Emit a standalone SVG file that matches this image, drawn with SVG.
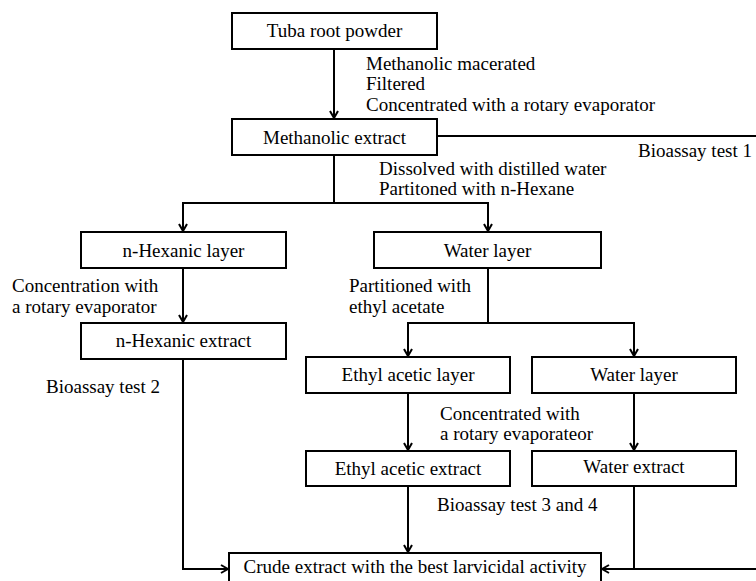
<svg xmlns="http://www.w3.org/2000/svg" width="756" height="581" viewBox="0 0 756 581">
<style>
  .box { fill: #ffffff; stroke: #000000; stroke-width: 2; }
  .lbl { font-family: "Liberation Serif", "Times New Roman", serif; font-size: 19px; fill: #000000; }
  .c { text-anchor: middle; }
  .ln { fill: none; stroke: #000000; stroke-width: 2; }
</style>
<defs>
  <marker id="arr" viewBox="0 0 10 10" refX="9" refY="5" markerWidth="10" markerHeight="10" markerUnits="userSpaceOnUse" orient="auto">
    <path d="M2,1 L9,5 L2,9" fill="none" stroke="#000000" stroke-width="2"/>
  </marker>
</defs>
<rect width="756" height="581" fill="#ffffff"/>

<g id="connectors">
  <line class="ln" x1="334" y1="49" x2="334" y2="118" marker-end="url(#arr)"/>
  <line class="ln" x1="437" y1="136" x2="757" y2="136"/>
  <polyline class="ln" points="334,155 334,203 183,203 183,231" marker-end="url(#arr)"/>
  <polyline class="ln" points="334,203 488,203 488,231" marker-end="url(#arr)"/>
  <line class="ln" x1="183" y1="268" x2="183" y2="322" marker-end="url(#arr)"/>
  <polyline class="ln" points="488,268 488,323 408,323 408,356" marker-end="url(#arr)"/>
  <polyline class="ln" points="488,323 634,323 634,356" marker-end="url(#arr)"/>
  <line class="ln" x1="408" y1="393" x2="408" y2="450" marker-end="url(#arr)"/>
  <line class="ln" x1="634" y1="393" x2="634" y2="450" marker-end="url(#arr)"/>
  <line class="ln" x1="408" y1="486" x2="408" y2="552" marker-end="url(#arr)"/>
  <polyline class="ln" points="183,359 183,569 228,569" marker-end="url(#arr)"/>
  <line class="ln" x1="634" y1="486" x2="634" y2="569"/>
  <line class="ln" x1="757" y1="569" x2="602" y2="569" marker-end="url(#arr)"/>
</g>

<g id="tuba">
  <rect class="box" x="232" y="13" width="205" height="36"/>
  <text class="lbl c" x="334.5" y="37">Tuba root powder</text>
</g>
<g id="step1-label">
  <text class="lbl" x="366" y="70">Methanolic macerated</text>
  <text class="lbl" x="366" y="90">Filtered</text>
  <text class="lbl" x="366" y="111">Concentrated with a rotary evaporator</text>
</g>
<g id="methanolic">
  <rect class="box" x="232" y="119" width="205" height="36"/>
  <text class="lbl c" x="334.5" y="144">Methanolic extract</text>
</g>
<g id="bioassay1">
  <text class="lbl" x="638" y="157">Bioassay test 1</text>
</g>
<g id="step2-label">
  <text class="lbl" x="379" y="175">Dissolved with distilled water</text>
  <text class="lbl" x="379" y="195">Partitoned with n-Hexane</text>
</g>
<g id="hexanic-layer">
  <rect class="box" x="81" y="232" width="205" height="36"/>
  <text class="lbl c" x="183.5" y="257">n-Hexanic layer</text>
</g>
<g id="water-layer">
  <rect class="box" x="374" y="232" width="227" height="36"/>
  <text class="lbl c" x="487.5" y="257">Water layer</text>
</g>
<g id="step3-label">
  <text class="lbl" x="12" y="292">Concentration with</text>
  <text class="lbl" x="12" y="313">a rotary evaporator</text>
</g>
<g id="step4-label">
  <text class="lbl" x="349" y="292">Partitioned with</text>
  <text class="lbl" x="349" y="313">ethyl acetate</text>
</g>
<g id="hexanic-extract">
  <rect class="box" x="81" y="323" width="205" height="36"/>
  <text class="lbl c" x="183.5" y="347">n-Hexanic extract</text>
</g>
<g id="bioassay2">
  <text class="lbl" x="46" y="393">Bioassay test 2</text>
</g>
<g id="ethyl-layer">
  <rect class="box" x="306" y="357" width="204" height="36"/>
  <text class="lbl c" x="408" y="381">Ethyl acetic layer</text>
</g>
<g id="water-layer-2">
  <rect class="box" x="532" y="357" width="204" height="36"/>
  <text class="lbl c" x="634" y="381">Water layer</text>
</g>
<g id="step5-label">
  <text class="lbl" x="440" y="420">Concentrated with</text>
  <text class="lbl" x="440" y="440">a rotary evaporateor</text>
</g>
<g id="ethyl-extract">
  <rect class="box" x="306" y="451" width="204" height="35"/>
  <text class="lbl c" x="408" y="475">Ethyl acetic extract</text>
</g>
<g id="water-extract">
  <rect class="box" x="532" y="451" width="204" height="35"/>
  <text class="lbl c" x="634" y="473">Water extract</text>
</g>
<g id="bioassay34">
  <text class="lbl" x="437" y="511">Bioassay test 3 and 4</text>
</g>
<g id="crude">
  <rect class="box" x="229" y="553" width="372" height="38"/>
  <text class="lbl c" x="415" y="573">Crude extract with the best larvicidal activity</text>
</g>
</svg>
